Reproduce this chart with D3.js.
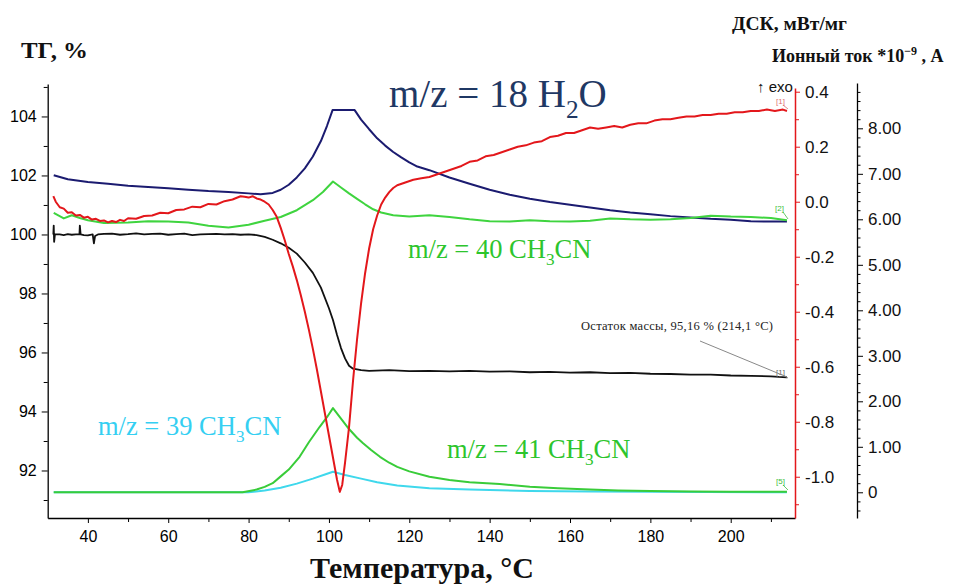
<!DOCTYPE html>
<html><head><meta charset="utf-8">
<script src="https://cdn.jsdelivr.net/npm/d3@7"></script>
<style>
html,body{margin:0;padding:0;background:#fff;}
svg{display:block;}
</style>
</head><body>
<svg id="c" width="958" height="587"></svg>
<script>
// ---------- DATA ----------
const xTickValues = [40, 60, 80, 100, 120, 140, 160, 180, 200];
const tgTickValues = [92, 94, 96, 98, 100, 102, 104];
const dscTickValues = [0.4, 0.2, 0.0, -0.2, -0.4, -0.6, -0.8, -1.0];
const ionTickValues = [0, 1, 2, 3, 4, 5, 6, 7, 8];

// TG, % (black, left axis)
const tgT = [31.4,31.5,31.6,31.8,33,34,35,36,37,37.9,38.0,38.2,39,40,41.2,41.5,41.8,42.5,44,46,48,50,52,54,56,58,60,62,64,66,68,70,72,74,76,78,80,82,84,86,88,90,92,94,96,98,100,101,102,103,104,105,106,108,110,115,120,125,130,135,140,145,150,155,160,165,170,175,180,185,190,195,200,205,210,212,214];
const tgV = [100.0,100.3,99.75,100.0,100.0,99.98,100.01,99.99,100.0,100.0,100.3,100.0,99.98,99.97,100.0,99.7,99.95,100.0,100.02,100.03,99.99,100.01,100.04,100.0,100.02,100.03,99.99,100.01,100.03,99.98,100.0,100.01,100.02,100.0,100.01,99.99,100.0,99.98,99.92,99.82,99.7,99.55,99.35,99.05,98.7,98.2,97.5,97.1,96.6,96.15,95.8,95.55,95.45,95.4,95.38,95.4,95.37,95.38,95.36,95.38,95.35,95.36,95.33,95.34,95.32,95.33,95.3,95.31,95.28,95.27,95.25,95.25,95.22,95.21,95.19,95.17,95.16];

// DSC, mW/mg (red, red axis)
const dscT = [31.4,32,33,34,35,36,37,38,39,40,41,42,43,44,45,46,47,48,49,50,52,54,56,58,60,62,64,66,68,70,72,74,76,78,79,80,81,82,83,84,85,86,87,88,89,90,91,92,93,94,95,96,97,98,99,100,101,102,102.7,103.3,104,105,106,107,108,109,110,111,112,113,114,115,116,117,119,121,123,125,127,129,131,133,135,137,139,141,143,145,147,149,151,153,155,157,159,161,163,165,167,169,171,173,175,177,179,181,183,185,187,189,191,193,195,197,199,201,203,205,207,209,211,213,214];
const dscV = [0.02,0.0,-0.02,-0.025,-0.04,-0.038,-0.05,-0.048,-0.058,-0.055,-0.065,-0.062,-0.07,-0.068,-0.075,-0.07,-0.074,-0.066,-0.07,-0.06,-0.062,-0.052,-0.05,-0.04,-0.042,-0.03,-0.028,-0.018,-0.02,-0.008,-0.01,0.002,0.008,0.02,0.018,0.015,0.02,0.012,0.008,0.0,-0.01,-0.03,-0.055,-0.095,-0.14,-0.19,-0.235,-0.285,-0.34,-0.4,-0.465,-0.535,-0.61,-0.69,-0.77,-0.85,-0.93,-1.01,-1.055,-1.03,-0.95,-0.82,-0.65,-0.5,-0.37,-0.26,-0.17,-0.1,-0.05,-0.01,0.015,0.035,0.05,0.06,0.07,0.08,0.085,0.09,0.1,0.11,0.12,0.13,0.145,0.15,0.165,0.17,0.18,0.19,0.2,0.205,0.215,0.22,0.235,0.24,0.25,0.25,0.26,0.27,0.265,0.27,0.275,0.27,0.28,0.285,0.285,0.295,0.3,0.3,0.305,0.31,0.31,0.315,0.315,0.32,0.32,0.325,0.325,0.33,0.33,0.335,0.33,0.335,0.33];

// Ion current m/z = 18 (navy)
const mz18T = [31.5,35,40,45,50,55,60,65,70,75,80,83,86,88,90,92,94,96,98,99.5,100.9,106.4,108,110,112,114,116,118,120,122,125,130,135,140,145,150,155,160,165,170,175,180,185,190,195,200,205,210,214];
const mz18V = [6.97,6.88,6.82,6.78,6.74,6.71,6.68,6.65,6.62,6.6,6.57,6.55,6.58,6.65,6.76,6.92,7.12,7.38,7.72,8.05,8.4,8.4,8.19,7.98,7.78,7.62,7.48,7.36,7.25,7.16,7.08,6.92,6.78,6.65,6.54,6.45,6.38,6.32,6.26,6.2,6.15,6.11,6.07,6.04,6.01,5.99,5.96,5.95,5.95];

// Ion current m/z = 40 (green)
const mz40T = [31.5,34,36,38,40,44,50,55,60,65,70,75,80,84,88,92,96,98.5,101,103,105,107,109,111,113,116,120,125,130,135,140,145,150,155,160,165,170,175,180,185,190,195,200,205,210,214];
const mz40V = [6.14,6.02,6.09,6.03,5.98,5.92,5.93,5.96,5.95,5.93,5.86,5.82,5.88,5.97,6.05,6.2,6.42,6.6,6.83,6.7,6.57,6.45,6.33,6.22,6.15,6.09,6.06,6.09,6.05,6.0,5.96,5.95,5.98,5.96,5.95,5.97,6.02,6.0,5.99,6.0,6.03,6.08,6.06,6.05,6.03,5.98];

// Ion current m/z = 39 (cyan)
const mz39T = [31.5,80,84,88,92,96,99,101,104,108,112,117,125,135,150,165,180,214];
const mz39V = [0,0,0.04,0.1,0.19,0.3,0.39,0.45,0.38,0.3,0.22,0.15,0.09,0.06,0.03,0.02,0.01,0.0];

// Ion current m/z = 41 (green)
const mz41T = [31.5,78.5,82,84,86,88,90,92.7,95,97.7,99.5,101,103,105,107,108.5,110.5,112.7,115,117,120,125,130,135,142.5,150,157,165,172,180,190,200,214];
const mz41V = [0,0,0.06,0.12,0.2,0.35,0.5,0.78,1.1,1.44,1.65,1.85,1.62,1.39,1.2,1.08,0.93,0.78,0.65,0.56,0.46,0.34,0.27,0.22,0.18,0.12,0.09,0.06,0.04,0.03,0.02,0.01,0.01];

// ---------- DRAW ----------
const svg = d3.select("#c");
const serif = "'Liberation Serif','Times New Roman',serif";
const sans = "'Liberation Sans',Arial,sans-serif";

const x = d3.scaleLinear().domain([30, 216]).range([47.7, 795]);
const yTG = d3.scaleLinear().domain([90.39, 105.1]).range([518, 84]);
const yDSC = d3.scaleLinear().domain([-1.150, 0.4135]).range([518, 88]);
const yIon = d3.scaleLinear().domain([-0.565, 8.996]).range([518, 83]);

function zip(a, b) { return a.map((t, i) => [t, b[i]]); }

// Axes
const gx = svg.append("g").attr("transform", "translate(0,518)")
  .call(d3.axisBottom(x).tickValues(xTickValues).tickSize(5).tickPadding(8).tickSizeOuter(0));
svg.append("g").attr("transform", "translate(0,518)")
  .call(d3.axisBottom(x).tickValues(d3.range(50, 211, 20)).tickSize(4).tickFormat("").tickSizeOuter(0))
  .select(".domain").remove();
gx.selectAll("text").attr("font-family", sans).attr("font-size", 16);

const gl = svg.append("g").attr("transform", "translate(47.7,0)")
  .call(d3.axisLeft(yTG).tickValues(tgTickValues).tickSize(6).tickPadding(5).tickSizeOuter(0));
svg.append("g").attr("transform", "translate(47.7,0)")
  .call(d3.axisLeft(yTG).tickValues(d3.range(91, 106, 2)).tickSize(4).tickFormat("").tickSizeOuter(0))
  .select(".domain").remove();
gl.selectAll("text").attr("font-family", sans).attr("font-size", 16);

const red = "#e3171b";
const gr = svg.append("g").attr("transform", "translate(795,0)")
  .call(d3.axisRight(yDSC).tickValues(dscTickValues).tickSize(5).tickPadding(5).tickSizeOuter(0).tickFormat(d3.format(".1f")));
svg.append("g").attr("transform", "translate(795,0)")
  .call(d3.axisRight(yDSC).tickValues([0.3,0.1,-0.1,-0.3,-0.5,-0.7,-0.9,-1.1]).tickSize(4).tickFormat("").tickSizeOuter(0))
  .call(g => g.select(".domain").remove())
  .selectAll("line").attr("stroke", red);
gr.select(".domain").attr("stroke", red).attr("stroke-width", 1.5);
gr.selectAll(".tick line").attr("stroke", red);
gr.selectAll("text").attr("font-family", sans).attr("font-size", 17).attr("fill", "#111")
  .text(d => d3.format(".1f")(d).replace("−", "-"));

const gi = svg.append("g").attr("transform", "translate(857,0)")
  .call(d3.axisRight(yIon).tickValues(ionTickValues).tickSize(6).tickPadding(5).tickSizeOuter(0)
    .tickFormat(d => d === 0 ? "0" : d3.format(".2f")(d)));
svg.append("g").attr("transform", "translate(857,0)")
  .call(d3.axisRight(yIon).tickValues(d3.range(-0.4, 8.9, 0.2).filter(v => Math.abs(v - Math.round(v)) > 0.05)).tickSize(3.5).tickFormat("").tickSizeOuter(0))
  .select(".domain").remove();
gi.select(".domain").attr("stroke-width", 1.3);
gi.selectAll("text").attr("font-family", sans).attr("font-size", 17).attr("fill", "#111");

[gx, gl].forEach(g => g.select(".domain").attr("stroke-width", 1.3));

// Lines
function draw(T, V, ys, color, w) {
  svg.append("path").datum(zip(T, V))
    .attr("fill", "none").attr("stroke", color).attr("stroke-width", w)
    .attr("stroke-linejoin", "round")
    .attr("d", d3.line().x(d => x(d[0])).y(d => ys(d[1])));
}
draw(mz18T, mz18V, yIon, "#1b1b70", 2);
draw(mz40T, mz40V, yIon, "#3fd43f", 2);
draw(mz39T, mz39V, yIon, "#3fd8ec", 2);
draw(mz41T, mz41V, yIon, "#39cc39", 2);
draw(tgT, tgV, yTG, "#111", 1.8);
draw(dscT, dscV, yDSC, red, 2);

// Curve end labels
function endLabel(txt, lx, ly, x1, y1, x2, y2, color) {
  svg.append("text").attr("x", lx).attr("y", ly).attr("font-family", sans).attr("font-size", 8)
    .attr("fill", color).text(txt);
  svg.append("line").attr("x1", x1).attr("y1", y1).attr("x2", x2).attr("y2", y2)
    .attr("stroke", color).attr("stroke-width", 0.8);
}
endLabel("[1]", 776, 104, 783, 105, 788, 109, "#e07070");
endLabel("[2]", 775, 211, 783, 212, 788, 219, "#40c040");
endLabel("[1]", 776, 375, 784, 376, 788, 378, "#666");
endLabel("[5]", 776, 484, 783, 485, 788, 490, "#40c040");

// Residual mass annotation
svg.append("line").attr("x1", 700).attr("y1", 341).attr("x2", 787).attr("y2", 377)
  .attr("stroke", "#888").attr("stroke-width", 1);
svg.append("text").attr("x", 581).attr("y", 330).attr("font-family", serif).attr("font-size", 12.5)
  .attr("fill", "#222").attr("textLength", 192).text("Остаток массы, 95,16 % (214,1 °C)");

// Titles
svg.append("text").attr("x", 21).attr("y", 58).attr("font-family", serif).attr("font-weight", "bold")
  .attr("font-size", 23).attr("fill", "#111").attr("textLength", 67).attr("lengthAdjust", "spacingAndGlyphs").text("ТГ, %");
svg.append("text").attr("x", 732).attr("y", 30).attr("font-family", serif).attr("font-weight", "bold")
  .attr("font-size", 18).attr("fill", "#111").attr("textLength", 115).attr("lengthAdjust", "spacingAndGlyphs").text("ДСК, мВт/мг");
const ion = svg.append("text").attr("x", 772).attr("y", 62).attr("font-family", serif).attr("font-weight", "bold")
  .attr("font-size", 18).attr("fill", "#111");
ion.append("tspan").text("Ионный ток *10");
ion.append("tspan").attr("dy", -7).attr("font-size", 12).text("−9");
ion.append("tspan").attr("dy", 7).text(" , А");

svg.append("text").attr("x", 422).attr("y", 578).attr("text-anchor", "middle").attr("font-family", serif)
  .attr("font-weight", "bold").attr("font-size", 30).attr("fill", "#111").text("Температура, °С");

svg.append("text").attr("x", 757).attr("y", 92).attr("font-family", sans).attr("font-size", 15)
  .attr("fill", "#111").text("↑ exo");

// m/z labels
function mz(x0, y0, size, color, parts) {
  const t = svg.append("text").attr("x", x0).attr("y", y0).attr("font-family", serif)
    .attr("font-size", size).attr("fill", color);
  const sub = Math.round(size * 0.28);
  t.append("tspan").text(parts[0]);
  t.append("tspan").attr("dy", sub).attr("font-size", size * 0.65).text(parts[1]);
  t.append("tspan").attr("dy", -sub).text(parts[2]);
}
mz(389, 107, 39, "#1f3864", ["m/z = 18 H", "2", "O"]);
mz(408, 258, 26.5, "#2dc52d", ["m/z = 40 CH", "3", "CN"]);
mz(98, 435, 26.5, "#35cff2", ["m/z = 39 CH", "3", "CN"]);
mz(447, 458, 26.5, "#2dc52d", ["m/z = 41 CH", "3", "CN"]);
</script>
</body></html>
